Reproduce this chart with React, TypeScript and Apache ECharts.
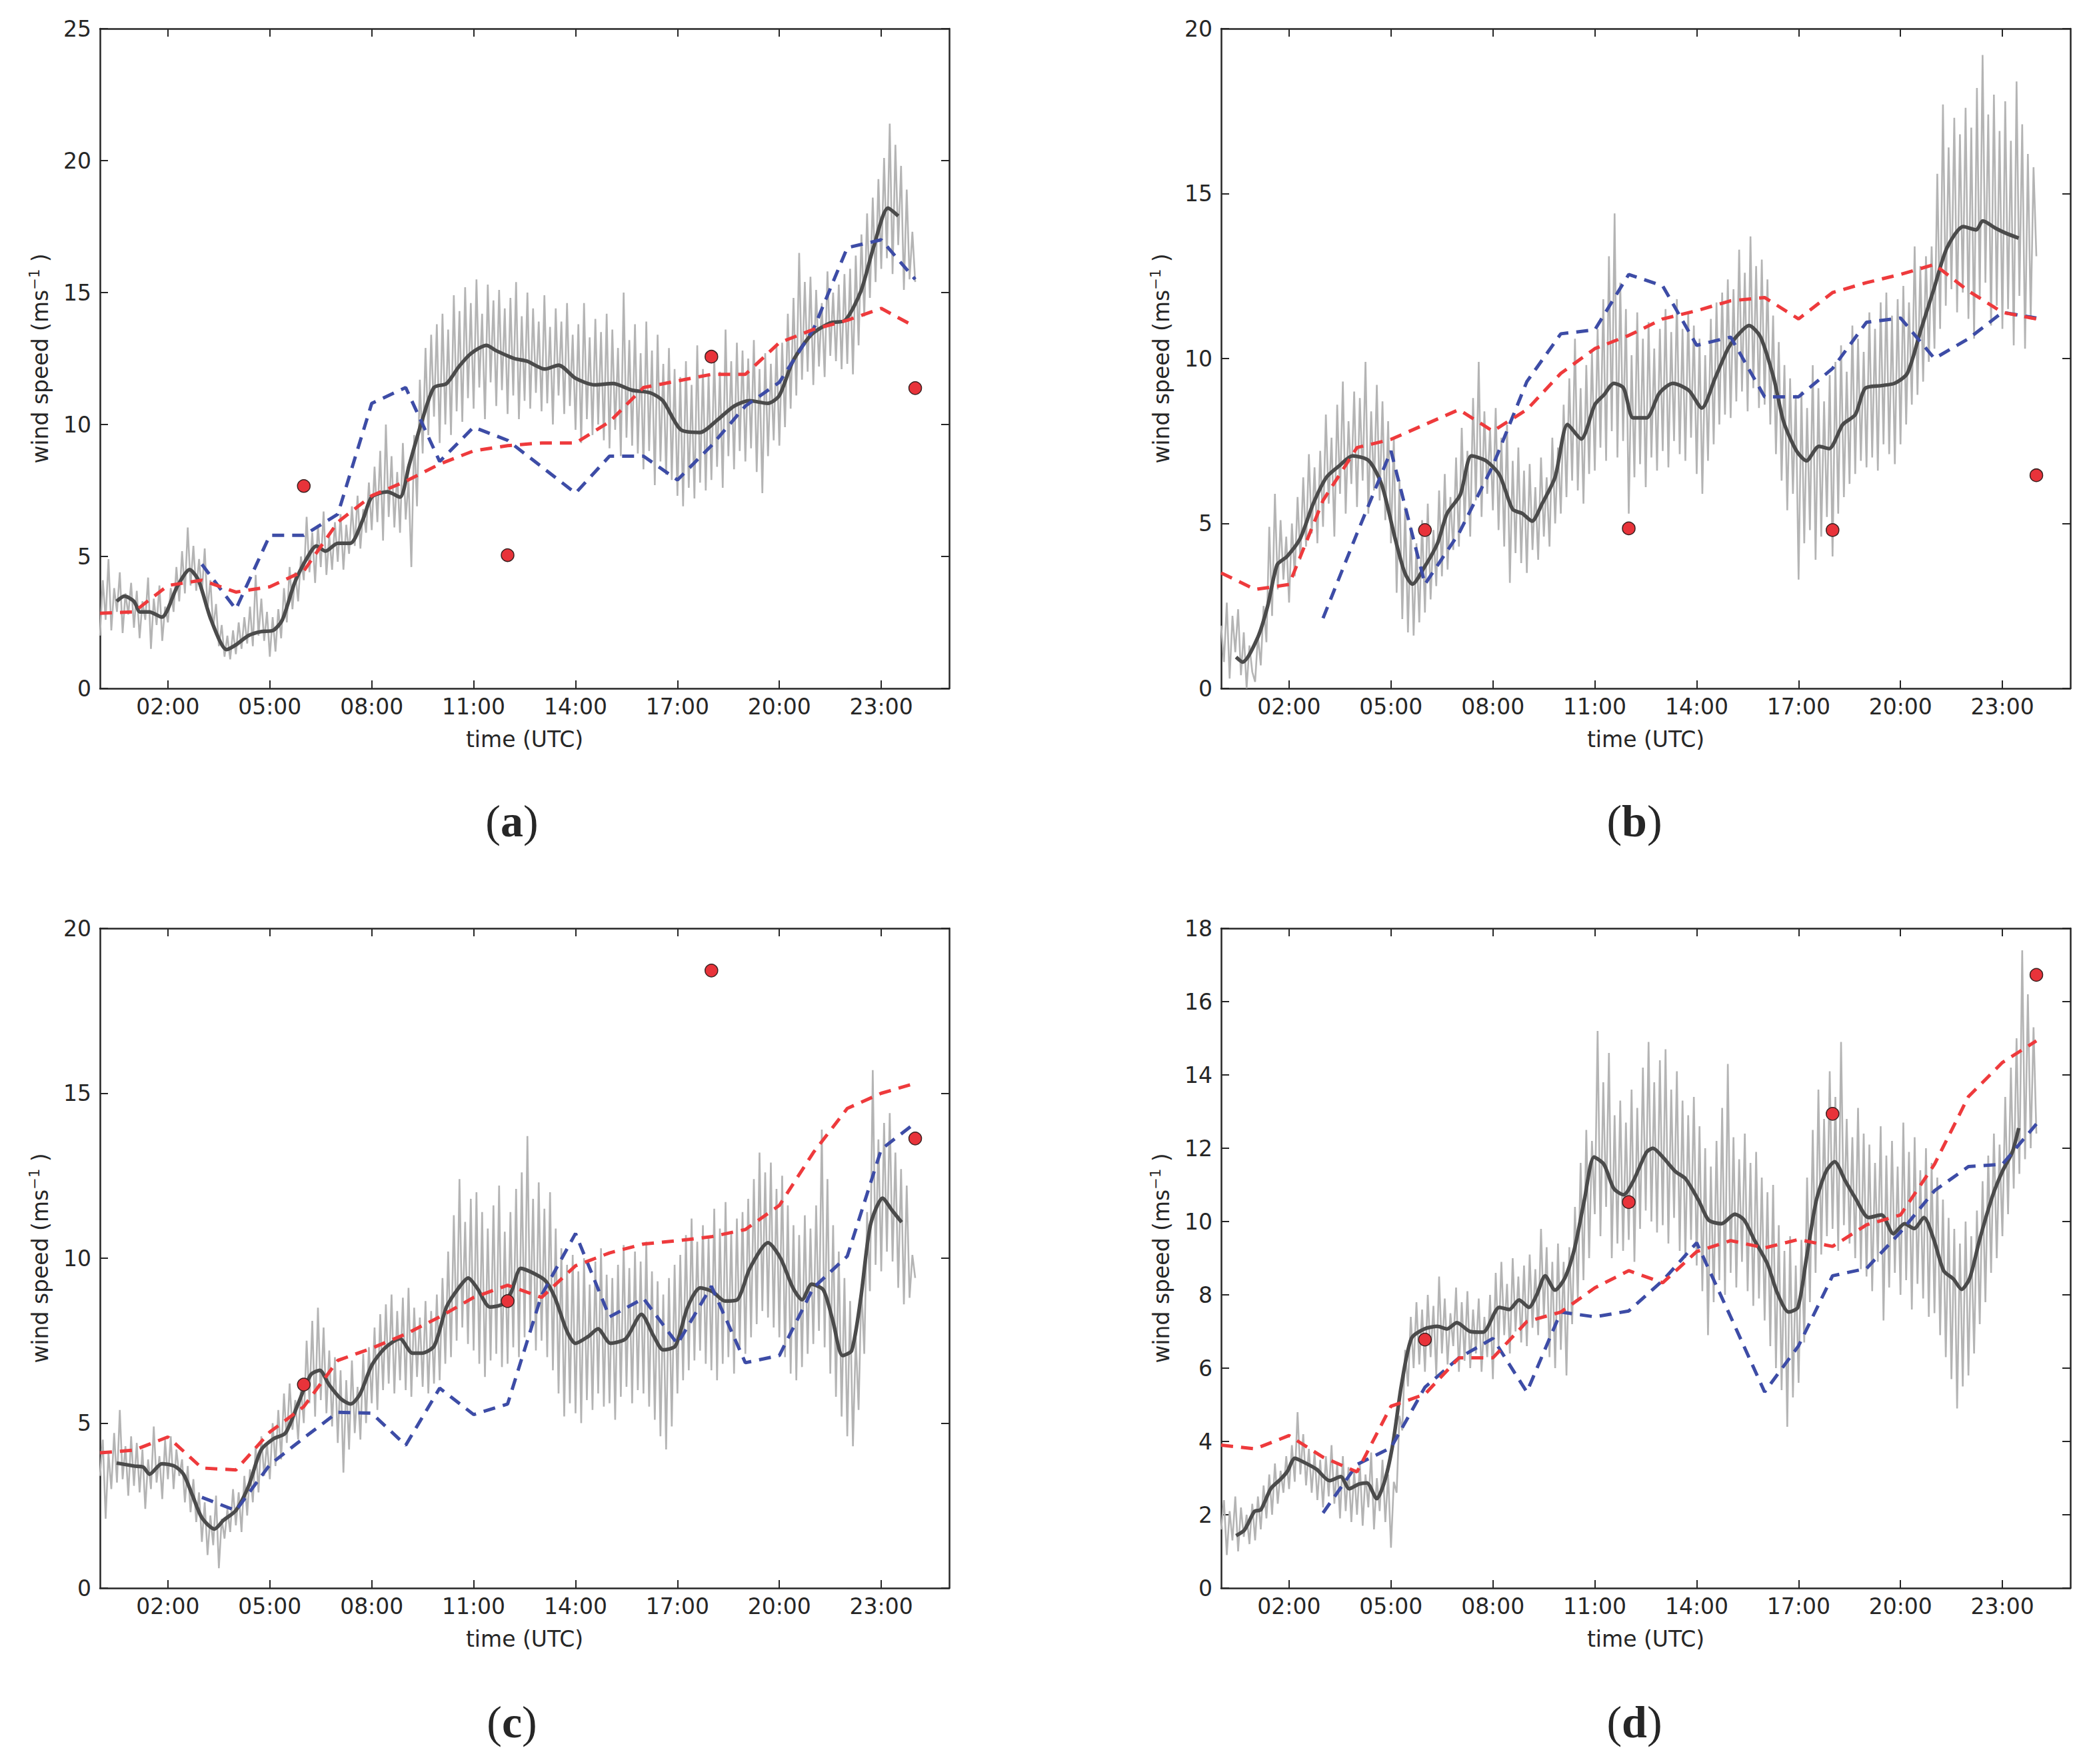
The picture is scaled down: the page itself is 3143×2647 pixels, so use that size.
import React, { useEffect, useRef } from "react";
import * as echarts from "echarts";

// ---------- data (hours since 00:00 UTC, wind speed in m/s) ----------
const X_TICKS = [2, 5, 8, 11, 14, 17, 20, 23];
const RED_HOURS = [0, 1, 2, 3, 4, 5, 6, 7, 8, 9, 10, 11, 12, 13, 14, 15, 16, 17, 18, 19, 20, 21, 22, 23, 24];
const BLUE_HOURS = [3, 4, 5, 6, 7, 8, 9, 10, 11, 12, 13, 14, 15, 16, 17, 18, 19, 20, 21, 22, 23, 24];
const OBS_HOURS = [6, 12, 18, 24];

// raw measurements, one value every 5 minutes from 00:00 to 24:00 (one row per hour)
const rawA = [
  2.0, 4.1, 2.6, 4.9, 2.2, 3.8, 2.9, 4.4, 2.1, 3.6, 2.8, 4.0,
  2.3, 3.7, 1.9, 3.3, 2.6, 4.2, 1.5, 3.4, 2.4, 3.9, 1.8, 3.1,
  2.5, 3.8, 2.9, 4.6, 3.3, 5.2, 3.6, 6.1, 3.9, 5.4, 3.7, 4.9,
  3.6, 5.3, 3.0, 4.1, 2.3, 3.2, 1.6, 2.4, 1.2, 2.0, 1.1, 2.2,
  1.3, 2.5, 1.5, 2.7, 1.7, 3.1, 1.6, 4.3, 2.0, 3.4, 1.8, 2.9,
  1.2, 2.7, 1.4, 3.0, 1.9, 3.8, 2.5, 4.6, 3.0, 4.4, 3.3, 5.0,
  4.1, 6.5, 4.4, 5.9, 4.0, 6.2, 4.6, 6.7, 4.3, 5.8, 4.5, 6.3,
  4.8, 6.6, 4.5, 6.2, 5.1, 6.9, 5.4, 7.3, 5.3, 6.8, 5.9, 7.8,
  6.0, 8.4, 6.3, 9.0, 5.6, 10.0, 6.5, 8.8, 6.1, 8.2, 5.9, 9.3,
  6.4, 7.9, 4.6, 9.6, 6.9, 11.7, 8.9, 12.9, 9.6, 13.4, 10.3, 13.8,
  9.3, 14.2, 10.0, 13.6, 9.6, 14.9, 10.5, 14.3, 10.1, 15.2, 11.0, 14.6,
  10.6, 15.5, 11.4, 14.2, 10.2, 15.3, 11.6, 14.7, 10.7, 15.1, 11.3, 14.4,
  10.4, 14.8, 11.1, 15.4, 10.2, 14.1, 10.9, 15.0, 10.6, 14.4, 11.2, 13.9,
  10.5, 14.9, 10.8, 13.7, 10.0, 14.4, 11.1, 13.9, 10.4, 14.6, 10.7, 13.4,
  9.8, 13.8, 9.3, 14.6, 10.2, 13.3, 9.6, 14.0, 10.0, 13.5, 9.4, 14.2,
  9.1, 13.6, 9.8, 12.9, 8.8, 15.0, 9.5, 13.2, 9.2, 13.8, 8.9, 12.7,
  8.3, 13.9, 9.0, 12.8, 7.7, 13.4, 8.6, 12.3, 8.1, 12.9, 7.9, 12.1,
  7.3, 11.8, 6.9, 12.4, 7.6, 11.5, 7.2, 13.0, 7.8, 12.1, 7.5, 11.9,
  7.9, 12.6, 8.4, 12.0, 7.6, 13.6, 8.8, 12.4, 8.3, 13.1, 9.0, 12.8,
  8.6, 12.5, 9.1, 13.2, 8.2, 12.1, 7.4, 12.7, 8.8, 12.3, 9.4, 13.0,
  9.2, 13.1, 9.9, 14.2, 10.6, 14.8, 11.1, 16.5, 11.7, 15.4, 12.0, 15.6,
  11.5, 15.1, 12.2, 14.6, 11.8, 15.8, 12.6, 15.0, 12.4, 15.3, 12.1, 15.7,
  12.3, 15.9, 11.9, 16.4, 13.0, 17.2, 14.1, 18.0, 14.8, 18.6, 15.4, 19.3,
  15.9, 20.1, 16.3, 21.4, 15.7, 20.6, 16.8, 19.8, 15.1, 18.9, 15.5, 17.3,
  15.4,
];
const rawB = [
  1.9, 0.8, 2.6, 0.3, 2.2, 1.1, 2.4, 0.4, 1.7, 0.0, 1.3, 0.5,
  0.2, 1.6, 0.7, 2.5, 1.4, 4.9, 2.2, 5.9, 3.0, 5.1, 3.3, 4.6,
  2.6, 5.0, 3.4, 5.8, 3.9, 6.4, 4.3, 7.1, 4.7, 6.7, 4.4, 7.2,
  4.9, 8.3, 5.6, 7.6, 4.6, 8.6, 5.9, 9.3, 5.3, 8.1, 6.2, 9.0,
  5.5, 8.8, 6.3, 9.9, 5.3, 8.4, 6.0, 9.2, 5.7, 8.7, 5.1, 8.1,
  4.4, 7.6, 2.9, 6.3, 2.1, 5.5, 1.7, 4.9, 1.6, 4.4, 2.0, 5.1,
  2.3, 5.6, 2.7, 4.8, 3.1, 6.0, 3.4, 6.5, 3.6, 5.8, 4.2, 7.0,
  4.3, 7.9, 5.0, 7.2, 4.6, 8.8, 5.7, 9.9, 5.2, 8.4, 5.9, 7.9,
  5.4, 8.5, 4.8, 7.6, 4.3, 8.0, 3.2, 6.9, 4.1, 7.3, 3.8, 6.6,
  3.5, 6.8, 4.2, 6.1, 3.9, 7.0, 4.6, 6.4, 4.3, 7.6, 5.0, 7.3,
  5.3, 8.6, 5.8, 9.4, 6.3, 10.6, 6.0, 9.1, 5.6, 9.8, 6.5, 10.2,
  6.6, 10.9, 7.3, 11.8, 6.9, 13.1, 7.8, 14.4, 7.0, 12.3, 7.5, 11.5,
  5.3, 10.1, 6.4, 11.4, 6.8, 10.6, 6.1, 11.1, 7.0, 10.3, 6.6, 10.9,
  7.2, 11.5, 6.7, 10.8, 7.5, 11.8, 7.1, 10.9, 6.9, 11.4, 7.6, 11.0,
  6.5, 10.6, 5.9, 10.1, 6.9, 11.2, 7.4, 11.7, 8.0, 12.0, 8.3, 12.4,
  8.2, 12.1, 8.7, 13.3, 9.0, 12.6, 8.4, 13.7, 9.1, 12.8, 8.5, 13.0,
  8.6, 12.4, 8.0, 11.3, 7.1, 10.5, 6.3, 9.8, 5.4, 9.4, 5.9, 8.9,
  3.3, 9.0, 4.4, 8.5, 4.8, 9.8, 3.9, 9.1, 4.6, 8.7, 5.2, 9.5,
  4.0, 9.9, 5.3, 10.4, 5.8, 9.6, 6.2, 11.0, 6.5, 10.6, 6.9, 10.2,
  6.7, 11.4, 7.0, 10.9, 6.6, 11.7, 7.4, 12.0, 7.1, 11.3, 6.8, 11.8,
  7.4, 12.2, 8.0, 11.7, 8.6, 13.4, 8.9, 12.8, 9.3, 13.1, 9.9, 13.4,
  10.3, 15.6, 10.9, 17.7, 11.6, 16.4, 12.1, 17.3, 11.4, 16.8, 12.0, 17.6,
  11.2, 17.0, 10.6, 18.2, 11.8, 19.2, 12.3, 17.4, 11.0, 18.0, 11.6, 16.9,
  10.9, 17.8, 11.5, 16.6, 10.4, 18.4, 11.9, 17.1, 10.3, 16.2, 11.2, 15.8,
  13.1,
];
const rawC = [
  3.4, 4.5, 2.1, 4.1, 3.0, 4.7, 3.2, 5.4, 3.3, 4.3, 2.8, 4.6,
  3.1, 4.4, 2.9, 4.2, 2.4, 3.9, 3.0, 4.9, 3.2, 4.0, 2.7, 4.5,
  3.3, 4.6, 3.0, 4.2, 3.4, 3.9, 2.6, 3.7, 2.3, 3.3, 2.0, 2.9,
  1.4, 2.6, 1.0, 2.2, 1.3, 2.8, 0.6, 2.1, 1.5, 2.4, 1.7, 3.0,
  1.9, 2.9, 1.7, 3.4, 2.2, 3.6, 2.6, 4.3, 2.9, 4.6, 3.4, 4.4,
  3.3, 5.0, 3.7, 5.4, 3.9, 5.9, 4.4, 6.2, 4.8, 5.7, 4.5, 6.1,
  5.0, 7.5, 5.6, 8.1, 5.2, 8.5, 5.7, 7.9, 5.3, 7.2, 4.9, 7.0,
  4.4, 6.6, 3.5, 6.3, 4.2, 6.9, 4.7, 6.1, 4.5, 7.1, 5.0, 7.3,
  5.6, 7.9, 5.4, 8.3, 6.0, 8.6, 6.2, 8.9, 5.9, 8.4, 6.3, 8.8,
  6.0, 9.1, 5.8, 8.5, 6.4, 8.2, 6.1, 8.7, 5.9, 8.4, 6.2, 8.9,
  6.3, 9.4, 6.8, 10.2, 7.0, 11.3, 7.5, 12.4, 7.9, 11.1, 7.4, 11.8,
  7.2, 12.0, 6.8, 11.4, 6.4, 10.9, 6.9, 11.6, 7.1, 12.2, 6.7, 10.8,
  6.8, 11.4, 7.3, 12.1, 7.0, 12.6, 7.6, 13.7, 7.9, 11.8, 7.2, 12.3,
  7.5, 11.5, 7.0, 12.0, 6.6, 10.9, 5.9, 10.3, 5.2, 9.8, 5.6, 10.1,
  5.3, 9.6, 5.0, 10.0, 5.7, 9.2, 5.4, 9.9, 5.9, 10.3, 5.5, 9.5,
  5.6, 9.4, 5.1, 9.8, 5.8, 10.4, 6.1, 9.7, 5.6, 10.2, 6.0, 9.9,
  5.9, 10.5, 5.5, 9.6, 5.1, 9.3, 4.6, 8.9, 4.2, 9.4, 4.9, 9.8,
  5.9, 10.1, 6.3, 10.7, 6.6, 11.2, 6.9, 10.5, 7.2, 11.0, 6.8, 10.6,
  6.6, 11.5, 6.3, 10.9, 6.8, 11.7, 7.0, 10.8, 6.5, 11.2, 7.3, 11.4,
  7.1, 11.8, 7.6, 12.4, 8.0, 13.2, 8.4, 12.6, 8.2, 12.9, 7.9, 12.1,
  7.6, 12.5, 7.0, 11.6, 6.5, 11.0, 6.3, 10.7, 6.7, 11.3, 7.1, 10.9,
  7.4, 11.6, 7.8, 13.9, 7.3, 12.4, 6.5, 11.0, 5.8, 10.2, 5.2, 9.4,
  4.6, 8.7, 4.3, 7.6, 5.4, 9.2, 7.1, 11.4, 9.0, 15.7, 9.8, 13.6,
  9.6, 14.1, 10.2, 14.4, 9.9, 13.2, 9.1, 12.7, 8.6, 12.2, 8.8, 10.1,
  9.4,
];
const rawD = [
  1.6, 2.4, 0.9, 2.1, 1.3, 2.5, 1.0, 2.2, 1.4, 2.0, 1.2, 2.3,
  1.3, 2.5, 1.6, 2.8, 1.9, 3.1, 2.0, 3.4, 2.3, 3.2, 2.6, 3.6,
  2.7, 3.9, 2.9, 4.8, 3.1, 4.2, 2.8, 3.8, 2.6, 3.7, 2.4, 3.5,
  2.2, 3.6, 2.5, 3.9, 2.3, 3.4, 1.9, 3.6, 2.1, 3.3, 1.8, 3.2,
  2.0, 3.4, 1.7, 3.1, 2.2, 3.7, 1.6, 3.0, 2.1, 3.5, 1.8, 3.1,
  1.1, 2.9, 2.6, 4.7, 4.3, 6.5, 5.5, 7.4, 6.0, 7.8, 6.1, 7.6,
  5.9, 8.0, 6.3, 7.7, 5.8, 8.5, 6.4, 7.9, 6.1, 7.5, 6.6, 8.2,
  5.9, 7.8, 6.2, 8.1, 6.0, 7.6, 6.4, 7.9, 5.9, 7.4, 6.3, 8.0,
  5.7, 8.6, 6.6, 8.9, 6.9, 8.3, 6.4, 9.0, 7.0, 8.5, 6.7, 8.8,
  6.6, 9.1, 7.1, 8.7, 6.9, 9.8, 7.4, 9.3, 6.3, 8.9, 6.0, 9.4,
  6.5, 8.9, 5.8, 9.3, 7.2, 10.4, 7.9, 11.6, 8.4, 12.5, 9.0, 12.2,
  10.2, 15.2, 9.6, 13.8, 10.4, 14.6, 9.0, 12.9, 9.4, 13.3, 9.2, 12.7,
  9.5, 13.6, 8.9, 13.1, 9.8, 14.2, 10.3, 14.9, 10.0, 13.8, 9.7, 14.4,
  9.9, 14.7, 9.4, 13.6, 10.1, 14.1, 9.2, 13.3, 9.0, 12.9, 9.5, 13.4,
  8.8, 12.6, 8.1, 12.0, 6.9, 11.5, 7.8, 12.2, 8.4, 13.1, 8.0, 14.3,
  8.6, 12.3, 8.2, 11.7, 8.9, 12.4, 8.1, 11.6, 7.7, 11.9, 7.9, 11.2,
  7.3, 10.8, 6.6, 11.0, 6.0, 9.9, 5.4, 9.2, 4.4, 9.6, 5.2, 8.8,
  5.6, 9.5, 6.7, 11.2, 7.8, 12.5, 8.6, 13.6, 9.1, 12.8, 9.6, 14.1,
  9.8, 13.4, 9.2, 14.9, 9.9, 12.8, 9.4, 12.3, 9.0, 13.1, 8.7, 12.4,
  8.5, 12.1, 8.1, 11.6, 8.9, 12.6, 7.3, 11.8, 8.2, 12.2, 8.6, 11.5,
  8.0, 12.7, 8.4, 11.9, 7.6, 12.3, 8.3, 11.4, 7.9, 12.0, 7.4, 11.6,
  7.5, 11.2, 6.9, 10.6, 6.3, 10.1, 5.7, 9.8, 4.9, 9.4, 5.5, 10.0,
  5.8, 9.6, 6.4, 10.3, 7.2, 11.1, 7.8, 11.8, 8.6, 12.4, 9.0, 12.1,
  9.6, 13.4, 10.2, 14.2, 10.9, 15.0, 11.3, 17.4, 11.7, 16.2, 12.0, 15.3,
  12.4,
];

// running mean of the measurements [hour, value]
const meanA = [
  [0.49, 3.3], [0.72, 3.5], [1.0, 3.3], [1.18, 2.9], [1.45, 2.9], [1.82, 2.7], [2.27, 3.85], [2.64, 4.5],
  [2.9, 4.1], [3.27, 2.6], [3.73, 1.47], [4.0, 1.65], [4.37, 2.0], [4.73, 2.15], [5.1, 2.2], [5.37, 2.6],
  [5.73, 4.0], [6.1, 4.95], [6.37, 5.4], [6.64, 5.2], [7.0, 5.5], [7.37, 5.5], [7.74, 6.4], [8.0, 7.25],
  [8.46, 7.45], [8.83, 7.25], [9.1, 8.45], [9.47, 10.1], [9.83, 11.4], [10.2, 11.55], [10.57, 12.2],
  [10.93, 12.7], [11.38, 13.0], [11.66, 12.8], [12.2, 12.5], [12.57, 12.4], [13.1, 12.1], [13.5, 12.25],
  [14.0, 11.75], [14.57, 11.5], [15.1, 11.55], [15.66, 11.3], [16.2, 11.2], [16.57, 10.9], [17.1, 9.8],
  [17.66, 9.7], [18.2, 10.2], [18.67, 10.7], [19.12, 10.9], [19.66, 10.8], [20.0, 11.1], [20.4, 12.4],
  [20.94, 13.4], [21.5, 13.85], [21.94, 13.95], [22.4, 15.05], [22.77, 16.7], [23.2, 18.2], [23.5, 17.9],
];
const meanB = [
  [0.44, 0.95], [0.63, 0.8], [1.08, 1.55], [1.37, 2.5], [1.65, 3.75], [1.94, 4.0], [2.33, 4.55], [2.71, 5.6],
  [3.1, 6.4], [3.48, 6.75], [3.87, 7.05], [4.35, 6.9], [4.73, 6.17], [5.12, 4.55], [5.4, 3.52], [5.63, 3.16],
  [5.98, 3.67], [6.37, 4.4], [6.65, 5.3], [7.04, 5.87], [7.37, 7.05], [7.8, 6.9], [8.2, 6.46], [8.58, 5.43],
  [8.87, 5.3], [9.15, 5.07], [9.44, 5.58], [9.83, 6.4], [10.2, 8.0], [10.6, 7.56], [11.0, 8.6], [11.27, 8.9],
  [11.56, 9.25], [11.85, 9.1], [12.13, 8.2], [12.52, 8.2], [12.9, 8.95], [13.3, 9.25], [13.77, 9.03],
  [14.15, 8.5], [14.54, 9.4], [14.92, 10.3], [15.2, 10.7], [15.54, 11.0], [15.88, 10.65], [16.27, 9.4],
  [16.56, 8.08], [16.94, 7.2], [17.23, 6.9], [17.6, 7.34], [17.9, 7.27], [18.3, 8.0], [18.67, 8.3],
  [18.96, 9.1], [19.44, 9.18], [19.83, 9.25], [20.2, 9.55], [20.6, 10.87], [20.98, 12.1], [21.37, 13.36],
  [21.85, 14.0], [22.23, 13.9], [22.42, 14.17], [22.8, 13.95], [23.1, 13.8], [23.48, 13.65],
];
const meanC = [
  [0.49, 3.79], [1.0, 3.7], [1.27, 3.67], [1.46, 3.45], [1.82, 3.77], [2.19, 3.7], [2.46, 3.45], [2.73, 2.79],
  [3.0, 2.13], [3.37, 1.79], [3.64, 2.06], [4.0, 2.35], [4.37, 3.08], [4.74, 4.18], [5.1, 4.52], [5.46, 4.7],
  [5.83, 5.58], [6.2, 6.46], [6.47, 6.6], [6.74, 6.17], [7.1, 5.73], [7.38, 5.58], [7.65, 5.87], [8.0, 6.75],
  [8.38, 7.27], [8.83, 7.56], [9.2, 7.12], [9.47, 7.12], [9.84, 7.34], [10.2, 8.52], [10.56, 9.1],
  [10.84, 9.4], [11.1, 9.1], [11.48, 8.52], [11.84, 8.6], [12.1, 8.96], [12.39, 9.69], [12.75, 9.55],
  [13.11, 9.32], [13.39, 8.81], [13.75, 7.78], [14.0, 7.42], [14.39, 7.64], [14.66, 7.86], [15.03, 7.42],
  [15.48, 7.56], [15.94, 8.3], [16.3, 7.64], [16.58, 7.22], [16.94, 7.34], [17.3, 8.52], [17.67, 9.1],
  [18.03, 8.99], [18.4, 8.7], [18.76, 8.74], [19.13, 9.69], [19.67, 10.47], [20.04, 9.99], [20.4, 9.1],
  [20.67, 8.74], [20.95, 9.21], [21.3, 9.03], [21.58, 8.08], [21.86, 7.05], [22.13, 7.2], [22.4, 8.81],
  [22.68, 11.0], [23.04, 11.82], [23.32, 11.45], [23.6, 11.09],
];
const meanD = [
  [0.44, 1.43], [0.69, 1.59], [0.98, 2.09], [1.17, 2.14], [1.46, 2.71], [1.75, 2.97], [1.94, 3.17],
  [2.17, 3.54], [2.42, 3.44], [2.81, 3.24], [3.19, 2.93], [3.52, 3.04], [3.77, 2.71], [4.06, 2.84],
  [4.29, 2.87], [4.58, 2.44], [4.83, 2.97], [5.06, 3.96], [5.31, 5.55], [5.6, 6.81], [5.98, 7.07],
  [6.37, 7.14], [6.65, 7.07], [6.94, 7.24], [7.33, 7.0], [7.71, 6.98], [8.19, 7.66], [8.48, 7.6],
  [8.77, 7.86], [9.06, 7.66], [9.29, 8.0], [9.54, 8.52], [9.83, 8.13], [10.12, 8.46], [10.4, 9.25],
  [10.69, 10.57], [10.98, 11.76], [11.27, 11.56], [11.56, 10.9], [11.85, 10.73], [12.13, 11.1],
  [12.52, 11.89], [12.71, 12.0], [13.0, 11.76], [13.37, 11.37], [13.67, 11.17], [14.06, 10.57],
  [14.35, 10.04], [14.73, 9.94], [15.12, 10.2], [15.4, 10.04], [15.69, 9.51], [16.08, 8.85], [16.37, 8.06],
  [16.71, 7.53], [16.98, 7.66], [17.23, 8.99], [17.52, 10.57], [17.81, 11.37], [18.06, 11.63],
  [18.38, 11.1], [18.67, 10.64], [19.06, 10.11], [19.44, 10.18], [19.79, 9.67], [20.12, 9.94],
  [20.4, 9.81], [20.69, 10.11], [20.98, 9.51], [21.27, 8.66], [21.56, 8.43], [21.8, 8.15], [22.04, 8.46],
  [22.33, 9.51], [22.71, 10.7], [23.0, 11.37], [23.29, 11.89], [23.48, 12.55],
];

// hourly model forecasts (red: from 00:00, blue: from 03:00)
const redA = [2.85, 2.9, 3.9, 4.1, 3.65, 3.85, 4.45, 6.3, 7.3, 7.85, 8.5, 9.0, 9.2, 9.3, 9.3, 10.1, 11.4, 11.65, 11.9, 11.9, 13.1, 13.6, 13.95, 14.4, 13.7];
const blueA = [4.7, 3.0, 5.8, 5.8, 6.6, 10.8, 11.4, 8.6, 9.9, 9.4, 8.4, 7.4, 8.8, 8.8, 7.9, 9.2, 10.7, 11.6, 13.6, 16.7, 17.0, 15.5];
const redB = [3.5, 3.0, 3.15, 5.7, 7.3, 7.55, 8.0, 8.45, 7.8, 8.45, 9.55, 10.3, 10.7, 11.2, 11.45, 11.75, 11.85, 11.2, 12.0, 12.3, 12.55, 12.85, 12.05, 11.4, 11.2];
const blueB = [2.13, 4.7, 7.2, 3.16, 4.7, 6.75, 9.3, 10.75, 10.87, 12.55, 12.2, 10.4, 10.65, 8.84, 8.84, 9.7, 11.1, 11.23, 10.0, 10.6, 11.4, 11.23];
const redC = [4.1, 4.18, 4.58, 3.64, 3.58, 4.73, 5.5, 6.9, 7.27, 7.7, 8.22, 8.81, 9.18, 8.81, 9.77, 10.16, 10.43, 10.53, 10.65, 10.87, 11.6, 13.2, 14.54, 15.0, 15.3];
const blueC = [2.75, 2.35, 3.74, 4.55, 5.33, 5.3, 4.33, 6.06, 5.26, 5.58, 8.88, 10.75, 8.22, 8.78, 7.4, 9.15, 6.83, 7.05, 9.1, 10.06, 13.3, 14.1];
const redD = [3.9, 3.8, 4.16, 3.57, 3.17, 4.96, 5.29, 6.28, 6.28, 7.27, 7.53, 8.19, 8.66, 8.33, 9.18, 9.48, 9.28, 9.51, 9.32, 9.91, 10.18, 11.56, 13.41, 14.34, 14.93];
const blueD = [2.05, 3.37, 3.83, 5.48, 6.28, 6.81, 5.35, 7.53, 7.4, 7.56, 8.39, 9.42, 7.4, 5.35, 6.61, 8.52, 8.72, 9.71, 10.84, 11.5, 11.56, 12.66];

// six-hourly observations (red dots)
const obsA = [7.67, 5.05, 12.57, 11.38];
const obsB = [4.8, 4.85, 4.8, 6.46];
const obsC = [6.17, 8.7, 18.72, 13.63];
const obsD = [6.78, 10.53, 12.94, 16.73];

const Y_MAX = [25, 20, 20, 18];
const Y_STEP = [5, 5, 5, 2];
const LABELS = ["a", "b", "c", "d"];

// ---------- layout / style ----------
const W = 3143;
const H = 2647;
const GRID_W = 1274;
const GRID_H = 990;
const LEFTS = [150, 1832, 150, 1832];
const TOPS = [43, 43, 1393, 1393];
const CAPTION_POS = [
  [768, 1232],
  [2452, 1232],
  [768, 2584],
  [2452, 2584],
];

const SANS = "DejaVu Sans";
const INK = "#262626";
const FS = 33;

const pad = (v: number) => (v < 10 ? "0" + v : "" + v);

function buildOption() {
  const panels = [
    { raw: rawA, mean: meanA, red: redA, blue: blueA, obs: obsA },
    { raw: rawB, mean: meanB, red: redB, blue: blueB, obs: obsB },
    { raw: rawC, mean: meanC, red: redC, blue: blueC, obs: obsC },
    { raw: rawD, mean: meanD, red: redD, blue: blueD, obs: obsD },
  ];
  const grid: any[] = [];
  const xAxis: any[] = [];
  const yAxis: any[] = [];
  const series: any[] = [];
  const graphic: any[] = [];

  const axisLine = { show: true, onZero: false, lineStyle: { color: INK, width: 2.5 } };
  const tickStyle = { color: INK, width: 2 };

  panels.forEach((p, i) => {
    grid.push({ left: LEFTS[i], top: TOPS[i], width: GRID_W, height: GRID_H, containLabel: false });
    const xCommon = { gridIndex: i, type: "value", min: 0, max: 25, splitLine: { show: false }, axisLine };
    xAxis.push({
      ...xCommon,
      position: "bottom",
      axisTick: { show: true, inside: true, length: 12, customValues: X_TICKS, lineStyle: tickStyle },
      axisLabel: {
        show: true,
        customValues: X_TICKS,
        formatter: (v: number) => pad(v) + ":00",
        fontSize: FS,
        fontFamily: SANS,
        color: INK,
        margin: 11,
      },
      name: "time (UTC)",
      nameLocation: "middle",
      nameGap: 60,
      nameTextStyle: { fontSize: FS, fontFamily: SANS, color: INK },
    });
    xAxis.push({
      ...xCommon,
      position: "top",
      axisTick: { show: true, inside: true, length: 12, customValues: X_TICKS, lineStyle: tickStyle },
      axisLabel: { show: false },
    });
    const yCommon = {
      gridIndex: i,
      type: "value",
      min: 0,
      max: Y_MAX[i],
      interval: Y_STEP[i],
      splitLine: { show: false },
      axisLine,
      axisTick: { show: true, inside: true, length: 12, lineStyle: tickStyle },
    };
    yAxis.push({
      ...yCommon,
      position: "left",
      axisLabel: { show: true, fontSize: FS, fontFamily: SANS, color: INK, margin: 13 },
      name: "wind speed (ms{sup|\u22121} )",
      nameLocation: "middle",
      nameGap: 70,
      nameRotate: 90,
      nameTextStyle: {
        fontSize: FS,
        fontFamily: SANS,
        color: INK,
        rich: { sup: { fontSize: 21, fontFamily: SANS, color: INK, padding: [0, 0, 18, 0] } },
      },
    });
    yAxis.push({ ...yCommon, position: "right", axisLabel: { show: false } });

    const xi = 2 * i;
    series.push({
      type: "line",
      xAxisIndex: xi,
      yAxisIndex: xi,
      data: p.raw.map((v, k) => [k / 12, v]),
      symbol: "none",
      lineStyle: { color: "#b4b4b4", width: 2.6 },
      z: 1,
      silent: true,
    });
    series.push({
      type: "line",
      xAxisIndex: xi,
      yAxisIndex: xi,
      data: p.mean,
      symbol: "none",
      smooth: 0.25,
      lineStyle: { color: "#4b4b4b", width: 5.5 },
      z: 2,
      silent: true,
    });
    series.push({
      type: "line",
      xAxisIndex: xi,
      yAxisIndex: xi,
      data: BLUE_HOURS.map((h, k) => [h, p.blue[k]]),
      symbol: "none",
      lineStyle: { color: "#3d4ca6", width: 5, type: [18, 12] },
      z: 3,
      silent: true,
    });
    series.push({
      type: "line",
      xAxisIndex: xi,
      yAxisIndex: xi,
      data: RED_HOURS.map((h, k) => [h, p.red[k]]),
      symbol: "none",
      lineStyle: { color: "#ee3a3c", width: 5, type: [18, 12] },
      z: 4,
      silent: true,
    });
    series.push({
      type: "scatter",
      xAxisIndex: xi,
      yAxisIndex: xi,
      data: OBS_HOURS.map((h, k) => [h, p.obs[k]]),
      symbolSize: 19,
      itemStyle: { color: "#e8333a", borderColor: "#3a2020", borderWidth: 1.5, opacity: 1 },
      z: 5,
      silent: true,
    });

    graphic.push({
      type: "text",
      x: CAPTION_POS[i][0],
      y: CAPTION_POS[i][1],
      style: {
        text: "{p|(}{b|" + LABELS[i] + "}{p|)}",
        align: "center",
        verticalAlign: "middle",
        rich: {
          p: { fontSize: 68, fontFamily: "Liberation Serif", fill: INK },
          b: { fontSize: 68, fontFamily: "Liberation Serif", fontWeight: "bold", fill: INK },
        },
      },
    });
  });

  return {
    animation: false,
    backgroundColor: "#ffffff",
    grid,
    xAxis,
    yAxis,
    series,
    graphic,
  };
}

export default function App() {
  const ref = useRef<HTMLDivElement>(null);
  useEffect(() => {
    if (!ref.current) return;
    const chart = echarts.init(ref.current, null, { renderer: "svg", width: W, height: H });
    chart.setOption(buildOption() as any);
    return () => {
      chart.dispose();
    };
  }, []);
  return (
    <div
      ref={ref}
      style={{ position: "absolute", left: 0, top: 0, width: W, height: H, background: "#fff" }}
    />
  );
}
